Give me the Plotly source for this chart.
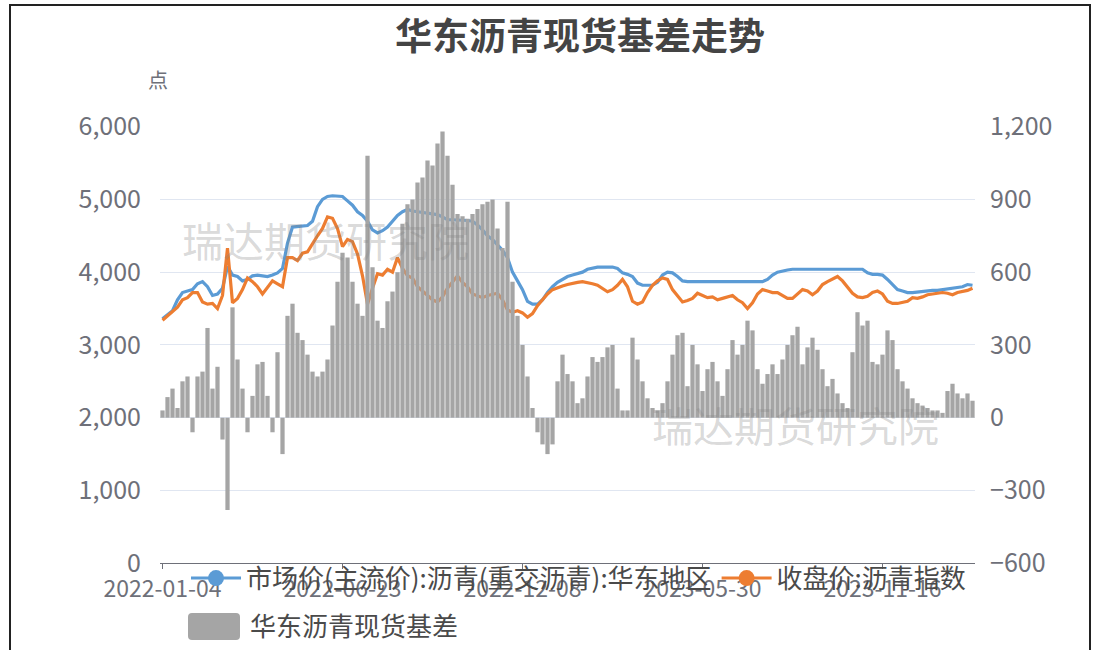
import pandas as pd
import plotly.graph_objects as go

TITLE = "华东沥青现货基差走势"
NAME_SPOT = "市场价(主流价):沥青(重交沥青):华东地区"
NAME_FUT = "收盘价:沥青指数"
NAME_BASIS = "华东沥青现货基差"
TICK_LABELS = ["2022-01-04", "2022-06-23", "2022-12-08", "2023-05-30", "2023-11-16"]

SPOT = [3360, 3410, 3470, 3620, 3720, 3740, 3760, 3840, 3870, 3800,
        3680, 3700, 3780, 4080, 3960, 3940, 3880, 3900, 3950, 3960,
        3950, 3940, 3960, 3990, 4050, 4400, 4620, 4630, 4640, 4640,
        4700, 4900, 5000, 5040, 5050, 5050, 5040, 4980, 4920, 4830,
        4780, 4700, 4580, 4540, 4570, 4620, 4700, 4780, 4830, 4860,
        4840, 4830, 4820, 4800, 4800, 4790, 4760, 4720, 4720, 4720,
        4720, 4710, 4700, 4650, 4580, 4500, 4450, 4380, 4300, 4200,
        4000, 3880, 3760, 3600, 3560, 3560, 3620, 3720, 3800, 3860,
        3900, 3940, 3960, 3980, 4000, 4040, 4060, 4070, 4070, 4070,
        4070, 4050, 3990, 3970, 3940, 3850, 3820, 3820, 3820, 3860,
        3960, 4000, 3990, 3940, 3880, 3870, 3870, 3870, 3870, 3870,
        3870, 3870, 3870, 3870, 3870, 3870, 3870, 3870, 3870, 3870,
        3870, 3900, 3960, 4000, 4020, 4030, 4040, 4040, 4040, 4040,
        4040, 4040, 4040, 4040, 4040, 4040, 4040, 4040, 4040, 4040,
        4040, 3990, 3970, 3970, 3960, 3900, 3830, 3760, 3740, 3720,
        3720, 3730, 3740, 3740, 3750, 3750, 3760, 3770, 3780, 3800,
        3800, 3830, 3820]

FUT = [3340, 3400, 3450, 3520, 3620, 3650, 3720, 3720, 3590, 3560,
       3570, 3500, 3680, 4330, 3580, 3640, 3760, 3920, 3870, 3800,
       3700, 3790, 3880, 3840, 3800, 4200, 4200, 4160, 4260, 4280,
       4400, 4500, 4600, 4760, 4740, 4600, 4350, 4450, 4420, 4250,
       3950, 3560, 3780, 3980, 3960, 4040, 4000, 4200, 4050, 3950,
       3920, 3800, 3740, 3680, 3620, 3590, 3660, 3780, 3870, 3950,
       3860, 3800, 3700, 3680, 3650, 3680, 3700, 3710, 3620, 3480,
       3450, 3470, 3440, 3380, 3430, 3540, 3620, 3700, 3760, 3790,
       3810, 3830, 3850, 3860, 3870, 3860, 3840, 3820, 3780, 3730,
       3760, 3820, 3900, 3800, 3600, 3560, 3590, 3720, 3820, 3880,
       3920, 3900, 3760, 3680, 3590, 3610, 3640, 3710, 3680, 3650,
       3660, 3620, 3640, 3660, 3680, 3620, 3580, 3500, 3580, 3700,
       3760, 3740, 3720, 3720, 3680, 3640, 3640, 3700, 3760, 3740,
       3690, 3740, 3830, 3870, 3910, 3940, 3880, 3790, 3710, 3660,
       3650, 3670, 3720, 3740, 3700, 3600, 3570, 3570, 3580, 3600,
       3650, 3640, 3660, 3690, 3700, 3710, 3720, 3710, 3690, 3720,
       3730, 3750, 3780]

BASIS = [30, 85, 120, 40, 150, 170, -60, 170, 190, 370,
         120, 210, -90, -380, 455, 240, 120, -60, 90, 220,
         230, 90, -60, 270, -150, 420, 470, 350, 320, 260,
         190, 170, 190, 240, 380, 560, 680, 660, 560, 470,
         420, 1080, 620, 400, 370, 480, 520, 600, 800, 880,
         900, 970, 990, 1060, 1040, 1130, 1180, 1080, 960, 840,
         830, 820, 840, 860, 880, 890, 900, 780, 700, 890,
         560, 420, 300, 170, 40, -60, -110, -150, -110, 150,
         260, 180, 150, 60, 80, 170, 250, 230, 250, 290,
         300, 120, 30, 30, 330, 240, 150, 80, 40, 30,
         60, 150, 260, 340, 350, 130, 300, 220, 110, 200,
         230, 150, 90, 200, 320, 260, 300, 400, 360, 200,
         140, 180, 220, 180, 240, 300, 340, 375, 220, 290,
         330, 280, 200, 130, 160, 100, 60, 40, 270, 435,
         380, 400, 230, 220, 260, 360, 320, 200, 150, 120,
         80, 60, 50, 40, 30, 30, 20, 110, 140, 100,
         80, 100, 70]

# ---- category axis (trading-day samples anchored on the tick dates) ----
N = len(SPOT)
anchors = pd.to_datetime(TICK_LABELS)
dates = []
for a, b in zip(anchors[:-1], anchors[1:]):
    dates += list(pd.date_range(a, b, periods=37)[:-1])
step = (anchors[-1] - anchors[-2]) / 36
k = 0
while len(dates) < N:
    dates.append(anchors[-1] + k * step)
    k += 1
CATS = [d.strftime("%Y-%m-%d") for d in dates[:N]]

W, H = 1102, 650
PX0, PX1 = 160, 975
PY_TOP, PY_BOT = 127, 565

BLUE = "#5B9BD5"
ORANGE = "#ED7D31"
GRAY = "#A5A5A5"
TXT = "#6E7079"
LEG = "#4A4A4A"
FONT = "Noto Sans CJK SC"

fig = go.Figure()
fig.add_trace(go.Bar(x=CATS, y=BASIS, name=NAME_BASIS, marker=dict(color=GRAY, line=dict(width=0)),
                     yaxis="y2", showlegend=False))
fig.add_trace(go.Scatter(x=CATS, y=SPOT, name=NAME_SPOT, mode="lines",
                         line=dict(color=BLUE, width=3.2), showlegend=False))
fig.add_trace(go.Scatter(x=CATS, y=FUT, name=NAME_FUT, mode="lines",
                         line=dict(color=ORANGE, width=3.2), showlegend=False))
# legend entries
fig.add_trace(go.Scatter(x=[None], y=[None], name=NAME_SPOT, mode="lines+markers",
                         line=dict(color=BLUE, width=3), marker=dict(size=16, color=BLUE),
                         legend="legend"))
fig.add_trace(go.Scatter(x=[None], y=[None], name=NAME_FUT, mode="lines+markers",
                         line=dict(color=ORANGE, width=3), marker=dict(size=16, color=ORANGE),
                         legend="legend"))
fig.add_trace(go.Scatter(x=[None], y=[None], name=NAME_BASIS, mode="markers",
                         marker=dict(symbol="square", size=10, color="rgba(0,0,0,0)"),
                         legend="legend2"))

fig.update_layout(
    width=W, height=H,
    margin=dict(l=0, r=0, t=0, b=0),
    paper_bgcolor="white", plot_bgcolor="white",
    font=dict(family=FONT, color=TXT, size=18),
    bargap=0.15,
    title=dict(text=f"<b>{TITLE}</b>", x=580 / W, xanchor="center", y=1 - 37 / H, yanchor="middle",
               font=dict(size=37, color="#444444", family=FONT)),
    xaxis=dict(domain=[PX0 / W, PX1 / W], type="category", categoryorder="array", categoryarray=CATS,
               range=[-0.5, N - 0.5], tickmode="array", tickvals=TICK_LABELS, ticktext=TICK_LABELS,
               showline=True, linecolor=TXT, linewidth=1, ticks="outside", ticklen=5, tickcolor=TXT,
               showgrid=False, tickfont=dict(size=23, color=TXT), ticklabelstandoff=0,
               automargin=False, fixedrange=True),
    yaxis=dict(domain=[1 - PY_BOT / H, 1 - PY_TOP / H], range=[0, 6000], dtick=1000, tickformat=",d",
               showgrid=True, gridcolor="#E0E6F1", gridwidth=1, zeroline=False, showline=False,
               tickfont=dict(size=25, color=TXT), ticklabelstandoff=18, automargin=False),
    yaxis2=dict(overlaying="y", side="right", range=[-600, 1200], dtick=300, tickformat=",d",
                showgrid=False, zeroline=False, showline=False,
                tickfont=dict(size=25, color=TXT), ticklabelstandoff=14, automargin=False),
    legend=dict(orientation="h", x=186 / W, xanchor="left", y=1 - 580 / H, yanchor="middle",
                font=dict(size=26, color=LEG), bgcolor="rgba(0,0,0,0)", itemwidth=50),
    legend2=dict(orientation="h", x=190 / W, xanchor="left", y=1 - 628 / H, yanchor="middle",
                 font=dict(size=26, color=LEG), bgcolor="rgba(0,0,0,0)", itemwidth=50),
    showlegend=True,
)

# legend swatch for the basis bars (rounded rectangle, as in the reference legend)
x0, x1, y0, y1, r = 188 / W, 240 / W, 1 - 642 / H, 1 - 615 / H, 4
rx, ry = r / W, r / H
fig.add_shape(type="path", xref="paper", yref="paper", fillcolor=GRAY, line=dict(width=0),
              path=(f"M {x0+rx} {y0} L {x1-rx} {y0} Q {x1} {y0} {x1} {y0+ry} "
                    f"L {x1} {y1-ry} Q {x1} {y1} {x1-rx} {y1} L {x0+rx} {y1} "
                    f"Q {x0} {y1} {x0} {y1-ry} L {x0} {y0+ry} Q {x0} {y0} {x0+rx} {y0} Z"))

fig.add_annotation(text="点", xref="paper", yref="paper", x=158 / W, y=1 - 80 / H,
                   xanchor="center", yanchor="middle",
                   showarrow=False, font=dict(size=20, color=TXT))
for (cx, cy) in [(325, 240), (795, 425)]:
    fig.add_annotation(text="瑞达期货研究院", xref="paper", yref="paper", x=cx / W, y=1 - cy / H,
                       xanchor="center", yanchor="middle",
                       showarrow=False, font=dict(size=41, color="rgba(130,130,130,0.3)"))

# outer frame
fig.add_shape(type="rect", xref="paper", yref="paper", x0=10 / W, x1=1090 / W, y0=-0.05, y1=1 - 5 / H,
              line=dict(color="#222222", width=2), fillcolor="rgba(0,0,0,0)", layer="above")

fig.write_html("out.html")
